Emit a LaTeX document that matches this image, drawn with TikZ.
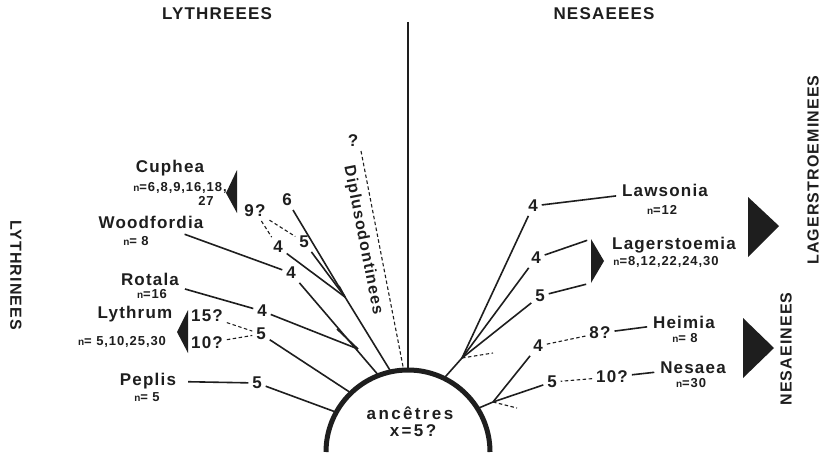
\documentclass[tikz,border=0pt]{standalone}
\usepackage{fontspec}
\newfontfamily\labfont{Liberation Sans}[LetterSpace=7]
\newfontfamily\widefont{Liberation Sans}[LetterSpace=14]
\definecolor{ink}{HTML}{1E1E1E}
\newcommand\chrn{{\fontsize{10}{10}\selectfont n}}
\begin{document}
\begin{tikzpicture}[x=1pt,y=-1pt,
  every node/.style={text=ink},
  taxon/.style={font=\labfont\bfseries\fontsize{17}{17}\selectfont, inner sep=1pt, outer sep=5pt},
  num/.style={font=\labfont\bfseries\fontsize{17}{17}\selectfont, inner sep=1pt, outer sep=3pt},
  chrom/.style={font=\labfont\bfseries\fontsize{13}{13}\selectfont, inner sep=1pt},
  group/.style={font=\labfont\bfseries\fontsize{17}{17}\selectfont, inner sep=1pt},
  side/.style={font=\labfont\bfseries\fontsize{16}{16}\selectfont, inner sep=1pt},
  branch/.style={draw=ink, line width=1.6pt},
  guess/.style={draw=ink, line width=1.1pt, dash pattern=on 3.5pt off 2.5pt},
  wedge/.style={fill=ink, draw=none}]

\fill[white] (0,0) rectangle (830,460);
\useasboundingbox (0,0) rectangle (830,460);

% ---- ancestral arc and attachment points ----
\coordinate (ctr) at (408,452);
\coordinate (A0) at ([shift={(90:82pt)}]ctr);
\coordinate (A1) at ([shift={(102:82pt)}]ctr);
\coordinate (A2) at ([shift={(111:82pt)}]ctr);
\coordinate (A3) at ([shift={(134:82pt)}]ctr);
\coordinate (A4) at ([shift={(151:82pt)}]ctr);
\coordinate (A5) at ([shift={(93:82pt)}]ctr);
\coordinate (B1) at ([shift={(64:82pt)}]ctr);
\coordinate (B2) at ([shift={(32:82pt)}]ctr);
\draw[ink, line width=5pt] ([shift={(180:82pt)}]ctr) arc[start angle=180, end angle=0, radius=82pt];
\node[font=\widefont\bfseries\fontsize{17}{17}\selectfont, inner sep=1pt] (anc) at (410,413) {ancêtres};
\node[font=\widefont\bfseries\fontsize{17}{17}\selectfont, inner sep=1pt] (xb) at (413,431) {x=5?};

% ---- group titles ----
\node[group] (tL) at (217,14) {LYTHREEES};
\node[group] (tN) at (604,14) {NESAEEES};
\node[side, rotate=-90] (sL) at (16,275) {LYTHRINEES};
\node[side, rotate=90] (sLag) at (813,170) {LAGERSTROEMINEES};
\node[side, rotate=90] (sNes) at (786,349) {NESAEINEES};

% ---- dividing line ----
\coordinate (vtop) at (408,22);
\draw[ink, line width=1.3pt] (vtop) -- (A0);

% ---- Diplusodontinees ----
\node[num] (qd) at (353,141) {?};
\coordinate (dtop) at (361,151);
\node[font=\labfont\bfseries\fontsize{16}{16}\selectfont, inner sep=0pt, rotate=-78.8] (dip) at (363,240) {Diplusodontinees};
\draw[guess] (dtop) -- (A5);

% ---- left-hand taxa ----
\node[taxon] (cuph) at (170,168) {Cuphea};
\node[chrom] (cuphn) at (180,188) {\chrn=6,8,9,16,18,};
\node[chrom] (cuph27) at (206,201) {27};
\node[taxon] (wood) at (151,222) {Woodfordia};
\node[chrom] (woodn) at (136,241) {\chrn= 8};
\node[taxon] (rot) at (150,279) {Rotala};
\node[chrom] (rotn) at (152,294) {\chrn=16};
\node[taxon] (lyth) at (135,314) {Lythrum};
\node[chrom] (lythn) at (122,342) {\chrn= 5,10,25,30};
\node[taxon] (pep) at (148,381) {Peplis};
\node[chrom] (pepn) at (147,397) {\chrn= 5};

\node[num] (q9) at (255,211) {9?};
\node[num] (n6) at (287,200) {6};
\node[num] (n5a) at (304,242) {5};
\node[num] (n4a) at (278,247) {4};
\node[num] (n4b) at (291,273) {4};
\node[num] (n4c) at (262,311) {4};
\node[num] (q15) at (207,316) {15?};
\node[num] (q10) at (207,343) {10?};
\node[num] (n5b) at (261,334) {5};
\node[num] (n5c) at (257,383) {5};

\fill[wedge] (237,170) -- (237,213) -- (226,193) -- cycle;
\fill[wedge] (188,310) -- (188,353) -- (177,332) -- cycle;

\coordinate (J1) at (345,297);
\coordinate (J2) at (358,349);
\coordinate (J1b) at (339,286);
\coordinate (J2b) at (337,329);

\draw[branch] (n6) -- (J1);
\draw[branch] (n5a) -- (J1);
\draw[branch] (n4a) -- (J1);
\draw[branch] (J1) -- (A1);
\draw[branch] (J1b) -- (J1);
\draw[guess] (q9) -- (n5a);
\draw[guess] (q9) -- (n4a);

\draw[branch] (wood) -- (n4b);
\draw[branch] (n4b) -- (A2);
\draw[branch] (rot) -- (n4c);
\draw[branch] (n4c) -- (J2);
\draw[branch] (J2b) -- (J2);

\draw[guess] (q15) -- (n5b);
\draw[guess] (q10) -- (n5b);
\draw[branch] (n5b) -- (A3);

\draw[branch, shorten <=6pt] (pep) -- (n5c);
\draw[branch] (n5c) -- (A4);

% ---- right-hand taxa ----
\node[taxon] (law) at (665,190) {Lawsonia};
\node[chrom] (lawn) at (662,210) {\chrn=12};
\node[taxon] (lag) at (674,245) {Lagerstoemia};
\node[chrom] (lagn) at (666,262) {\chrn=8,12,22,24,30};
\node[taxon] (hei) at (684,322) {Heimia};
\node[chrom] (hein) at (685,338) {\chrn= 8};
\node[taxon] (nes) at (693,368) {Nesaea};
\node[chrom] (nesn) at (691,383) {\chrn=30};

\node[num] (r4a) at (533,206) {4};
\node[num] (r4b) at (536,258) {4};
\node[num] (r5a) at (540,296) {5};
\node[num] (r4c) at (538,346) {4};
\node[num] (q8) at (600,333) {8?};
\node[num] (r5b) at (552,382) {5};
\node[num] (q10b) at (612,377) {10?};

\coordinate (tg1) at (591,239);
\coordinate (tg2) at (591,283);
\fill[wedge] (tg1) -- (tg2) -- (604,261) -- cycle;
\fill[wedge] (748,197) -- (748,257) -- (779,226) -- cycle;
\fill[wedge] (743,318) -- (743,378) -- (774,348) -- cycle;

\coordinate (R1) at (462,358);
\coordinate (R2) at (493,402);
\coordinate (R1d) at (493,353);
\coordinate (R2d) at (517,408);

\draw[branch] (law) -- (r4a);
\draw[branch] (r4a) -- (R1);
\draw[branch, shorten >=4pt] (r4b) -- (tg1);
\draw[branch] (r4b) -- (R1);
\draw[branch, shorten >=5pt] (r5a) -- (tg2);
\draw[branch] (r5a) -- (R1);
\draw[guess] (R1) -- (R1d);
\draw[branch] (R1) -- (B1);

\draw[branch] (hei) -- (q8);
\draw[guess] (q8) -- (r4c);
\draw[branch] (r4c) -- (R2);
\draw[branch] (nes) -- (q10b);
\draw[guess] (q10b) -- (r5b);
\draw[branch] (r5b) -- (R2);
\draw[guess] (R2) -- (R2d);
\draw[branch] (R2) -- (B2);
\end{tikzpicture}
\end{document}
